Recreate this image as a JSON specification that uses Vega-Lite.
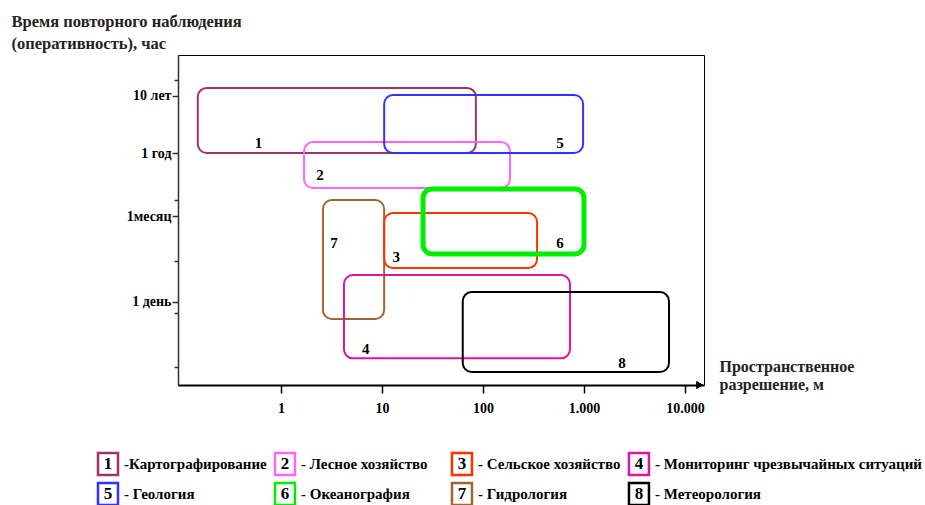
{
  "$schema": "https://vega.github.io/schema/vega-lite/v6.json",
  "autosize": {"type": "pad"},
  "padding": {"left": 10, "top": 12, "right": 0, "bottom": 0},
  "background": "white",
  "config": {
    "font": "Liberation Serif",
    "view": {"stroke": null}
  },
  "datasets": {
    "areas": [
      {"id": 1, "name": "Картографирование", "label": "-Картографирование", "x1": 0.15, "x2": 85, "y1": 119000, "y2": 8900, "lx": 0.6, "ly": 13300},
      {"id": 2, "name": "Лесное хозяйство", "label": "- Лесное хозяйство", "x1": 1.69, "x2": 185, "y1": 13800, "y2": 2210, "lx": 2.43, "ly": 3720},
      {"id": 5, "name": "Геология", "label": "- Геология", "x1": 10.5, "x2": 980, "y1": 89800, "y2": 8900, "lx": 578, "ly": 13300},
      {"id": 7, "name": "Гидрология", "label": "- Гидрология", "x1": 2.6, "x2": 10.5, "y1": 1370, "y2": 12, "lx": 3.35, "ly": 247},
      {"id": 3, "name": "Сельское хозяйство", "label": "- Сельское хозяйство", "x1": 10.5, "x2": 343, "y1": 817, "y2": 91, "lx": 13.8, "ly": 142},
      {"id": 6, "name": "Океанография", "label": "- Океанография", "x1": 25.5, "x2": 1000, "y1": 2130, "y2": 160, "lx": 578, "ly": 247},
      {"id": 4, "name": "Мониторинг чрезвычайных ситуаций", "label": "- Мониторинг чрезвычайных ситуаций", "x1": 4.2, "x2": 727, "y1": 69, "y2": 2.5, "lx": 6.9, "ly": 3.63},
      {"id": 8, "name": "Метеорология", "label": "- Метеорология", "x1": 63, "x2": 6940, "y1": 35, "y2": 1.45, "lx": 2380, "ly": 2.07}
    ]
  },
  "bounds": "flush",
  "center": true,
  "spacing": 64,
  "vconcat": [
    {
      "width": 526,
      "height": 330,
      "view": {"stroke": "black", "strokeWidth": 1},
      "data": {"name": "areas"},
      "layer": [
        {
          "mark": {"type": "rect", "filled": false, "cornerRadius": 9, "clip": false},
          "encoding": {
            "x": {
              "field": "x1", "type": "quantitative",
              "scale": {"type": "log", "domain": [0.0955, 15420], "nice": false},
              "axis": {
                "title": ["Пространственное", "разрешение, м"],
                "values": [1, 10, 100, 1000, 10000],
                "labelExpr": "replace(format(datum.value, ','), ',', '.')",
                "labelOverlap": false,
                "grid": false,
                "tickSize": 8, "tickColor": "black", "tickWidth": 1.5,
                "domainColor": "black", "domainWidth": 2,
                "labelFont": "Liberation Serif", "labelFontWeight": "bold", "labelFontSize": 14, "labelColor": "black", "labelPadding": 8,
                "titleFont": "Liberation Serif", "titleFontWeight": "bold", "titleFontSize": 16, "titleColor": "#222222",
                "titleAlign": "left", "titleBaseline": "top", "titleAngle": 0,
                "titleX": 541, "titleY": -27, "titleLineHeight": 18
              }
            },
            "x2": {"field": "x2"},
            "y": {
              "field": "y1", "type": "quantitative",
              "scale": {"type": "log", "domain": [0.865, 442000], "nice": false},
              "axis": {
                "title": ["Время повторного наблюдения", "(оперативность), час"],
                "values": [24, 720, 8760, 87600, 163000, 1370, 120, 15, 1.8],
                "labelExpr": "datum.value == 87600 ? '10 лет' : datum.value == 8760 ? '1 год' : datum.value == 720 ? '1месяц' : datum.value == 24 ? '1 день' : ''",
                "labelOverlap": false,
                "grid": false,
                "tickSize": {"condition": {"test": "datum.value == 24 || datum.value == 720 || datum.value == 8760 || datum.value == 87600", "value": 6}, "value": 4},
                "tickColor": "#333333", "tickWidth": 1.5,
                "domainColor": "#333333", "domainWidth": 1.5,
                "labelFont": "Liberation Serif", "labelFontWeight": "bold", "labelFontSize": 14, "labelColor": "black", "labelPadding": 1,
                "titleFont": "Liberation Serif", "titleFontWeight": "bold", "titleFontSize": 16.5, "titleColor": "#222222",
                "titleAlign": "left", "titleBaseline": "top", "titleAngle": 0,
                "titleX": -167, "titleY": -42, "titleLineHeight": 22
              }
            },
            "y2": {"field": "y2"},
            "color": {
              "field": "id", "type": "nominal",
              "scale": {"domain": [1, 2, 3, 4, 5, 6, 7, 8], "range": ["#9B3566", "#FF66FF", "#FF3300", "#E0159A", "#3333FF", "#00EE00", "#9E6633", "#000000"]},
              "legend": null
            },
            "strokeWidth": {"condition": {"test": "datum.id == 6", "value": 5}, "value": 2}
          }
        },
        {
          "mark": {"type": "text", "fontWeight": "bold", "fontSize": 15, "font": "Liberation Serif", "color": "black"},
          "encoding": {
            "x": {"field": "lx", "type": "quantitative"},
            "y": {"field": "ly", "type": "quantitative"},
            "text": {"field": "id", "type": "nominal"}
          }
        },
        {
          "mark": {"type": "point", "shape": "triangle-right", "filled": true, "color": "black", "size": 50, "opacity": 1, "clip": false},
          "encoding": {
            "x": {"datum": 14000},
            "y": {"datum": 0.865}
          }
        }
      ]
    },
    {
      "width": 666,
      "height": 60,
      "data": {"name": "areas"},
      "transform": [
        {"calculate": "(datum.id - 1) % 4", "as": "col"},
        {"calculate": "floor((datum.id - 1) / 4)", "as": "row"}
      ],
      "encoding": {
        "x": {"field": "col", "type": "quantitative", "scale": {"domain": [0, 3.763], "nice": false, "zero": false}, "axis": null},
        "y": {"field": "row", "type": "ordinal", "scale": {"type": "point", "padding": 0.5}, "axis": null}
      },
      "layer": [
        {
          "mark": {"type": "point", "shape": "M-1,-1.1L1,-1.1L1,1.1L-1,1.1Z", "size": 400, "filled": false, "fill": "white", "fillOpacity": 1, "strokeWidth": 2.5, "opacity": 1},
          "encoding": {
            "color": {
              "field": "id", "type": "nominal",
              "scale": {"domain": [1, 2, 3, 4, 5, 6, 7, 8], "range": ["#9B3566", "#FF66FF", "#FF3300", "#E0159A", "#3333FF", "#00EE00", "#9E6633", "#000000"]},
              "legend": null
            }
          }
        },
        {
          "mark": {"type": "text", "fontWeight": "bold", "fontSize": 17, "font": "Liberation Serif", "color": "black", "baseline": "middle"},
          "encoding": {"text": {"field": "id", "type": "nominal"}}
        },
        {
          "mark": {"type": "text", "align": "left", "baseline": "middle", "dx": 16, "fontWeight": "bold", "fontSize": 15, "font": "Liberation Serif", "color": "black"},
          "encoding": {"text": {"field": "label", "type": "nominal"}}
        }
      ]
    }
  ]
}
